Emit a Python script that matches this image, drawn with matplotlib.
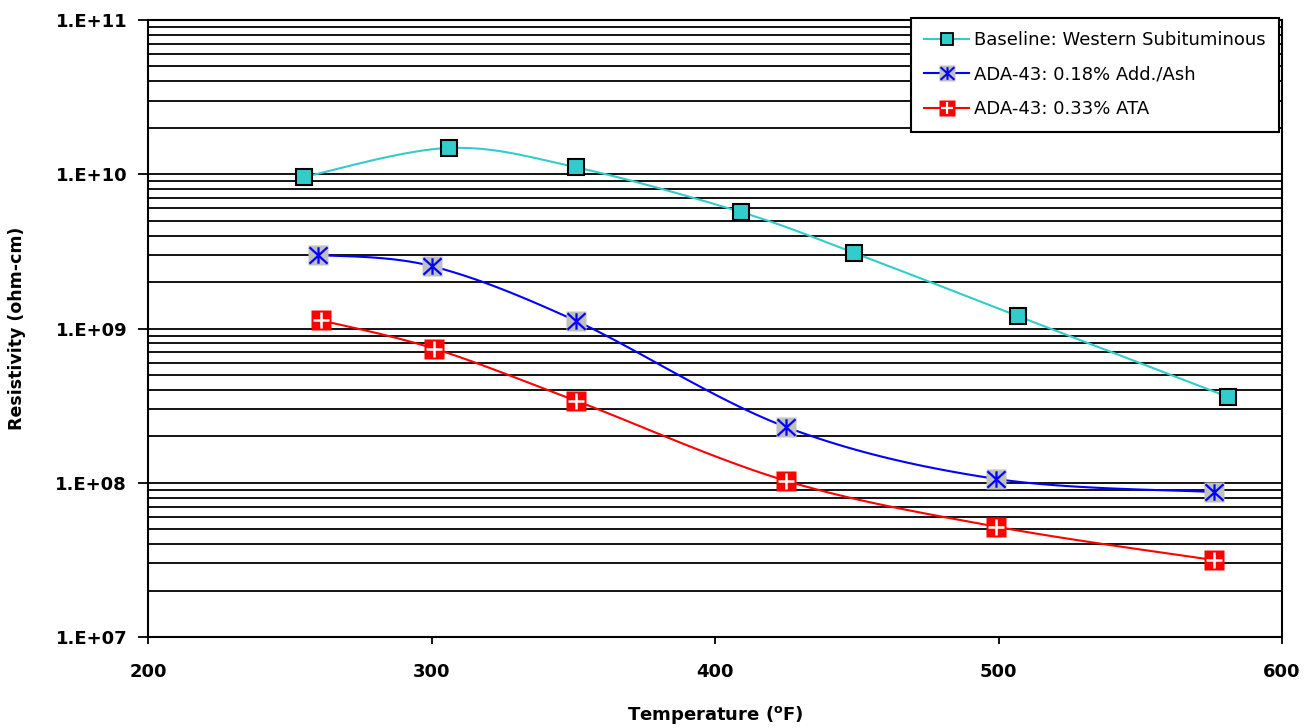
import numpy as np
import matplotlib
matplotlib.use('Agg')
import matplotlib.pyplot as plt
from matplotlib.path import Path
from matplotlib.lines import Line2D
from matplotlib.ticker import LogLocator, FuncFormatter, NullFormatter

plt.rcParams['font.family'] = ['DejaVu Sans']

# data
temp_base = [255, 306, 351, 409, 449, 507, 581]
res_base = [9.6e9, 1.48e10, 1.11e10, 5.7e9, 3.1e9, 1.2e9, 3.6e8]
temp_add = [260, 300, 351, 425, 499, 576]
res_add = [3.0e9, 2.54e9, 1.12e9, 2.3e8, 1.06e8, 8.7e7]
temp_ata = [261, 301, 351, 425, 499, 576]
res_ata = [1.13e9, 7.4e8, 3.4e8, 1.03e8, 5.2e7, 3.15e7]

labels = ['Baseline: Western Subituminous',
          'ADA-43: 0.18% Add./Ash',
          'ADA-43: 0.33% ATA']


def smooth(xs, ys, n=25):
    # excel style smoothed line (bezier through the points, in x / log y space)
    px = np.asarray(xs, float) / 400 * 1134
    py = np.log10(ys) * 154
    pts = np.column_stack([px, py])
    ext = np.vstack([pts[0], pts, pts[-1]])
    t = np.linspace(0, 1, n)[:, None]
    out = []
    for i in range(len(pts) - 1):
        p0, p1, p2, p3 = ext[i], ext[i + 1], ext[i + 2], ext[i + 3]
        c1 = p1 + (p2 - p0) / 6
        c2 = p2 - (p3 - p1) / 6
        seg = (1 - t) ** 3 * p1 + 3 * (1 - t) ** 2 * t * c1 + 3 * (1 - t) * t ** 2 * c2 + t ** 3 * p2
        out.append(seg if i == 0 else seg[1:])
    out = np.vstack(out)
    return out[:, 0] * 400 / 1134, 10 ** (out[:, 1] / 154)


# asterisk marker: vertical bar + X
star = Path([(0, -1), (0, 1), (-1.1, -1), (1.1, 1), (-1.1, 1), (1.1, -1)],
            [Path.MOVETO, Path.LINETO, Path.MOVETO, Path.LINETO, Path.MOVETO, Path.LINETO])

teal = '#33CCCC'
fig = plt.figure(figsize=(13.12, 7.28), dpi=100)
ax = fig.add_axes([148 / 1312, 1 - 637 / 728, 1134 / 1312, 617 / 728])

# lines
x, y = smooth(temp_base, res_base)
ax.plot(x, y, color=teal, lw=1.5, zorder=3)
x, y = smooth(temp_add, res_add)
ax.plot(x, y, color='#0000FF', lw=1.5, zorder=3)
x, y = smooth(temp_ata, res_ata)
ax.plot(x, y, color='#FF0000', lw=1.5, zorder=3)

# markers
ax.plot(temp_base, res_base, ls='none', marker='s', ms=12, mfc=teal, mec='black', mew=1.5, zorder=4)
ax.plot(temp_add, res_add, ls='none', marker='s', ms=14, mfc='#C0C0C0', mec='none', zorder=4)
ax.plot(temp_add, res_add, ls='none', marker=star, ms=13, mfc='none', mec='#0000FF', mew=1.6, zorder=5)
ax.plot(temp_ata, res_ata, ls='none', marker='s', ms=14, mfc='#FF0000', mec='none', zorder=4)
ax.plot(temp_ata, res_ata, ls='none', marker='+', ms=12, mec='white', mew=1.8, zorder=5)

ax.set_yscale('log')
ax.set_xlim(200, 600)
ax.set_ylim(1e7, 1e11)
ax.set_xticks([200, 300, 400, 500, 600])
ax.yaxis.set_major_locator(LogLocator(base=10, numticks=10))
ax.yaxis.set_minor_locator(LogLocator(base=10, subs=range(2, 10), numticks=20))
ax.yaxis.set_major_formatter(FuncFormatter(lambda v, p: '1.E+%02d' % int(round(np.log10(v)))))
ax.yaxis.set_minor_formatter(NullFormatter())
ax.grid(True, which='both', axis='y', color='black', lw=1.3)
ax.set_axisbelow(True)

ax.tick_params(axis='y', which='major', length=7, width=1.3, pad=8, labelsize=13)
ax.tick_params(axis='y', which='minor', length=0)
ax.tick_params(axis='x', length=5, width=1.3, pad=14, labelsize=13)
for lab in ax.get_xticklabels() + ax.get_yticklabels():
    lab.set_fontweight('bold')

for side in ['left', 'right', 'bottom', 'top']:
    ax.spines[side].set_linewidth(1.5)

ax.set_ylabel('Resistivity (ohm-cm)', fontsize=12.5, fontweight='bold', labelpad=21)
ax.set_xlabel(r'Temperature ($^{\mathbf{o}}$F)', fontsize=13, fontweight='bold', labelpad=16)

# legend
h1 = Line2D([], [], color=teal, lw=1.5, marker='s', ms=9, mfc=teal, mec='black', mew=1.3)
h2a = Line2D([], [], color='#0000FF', lw=1.5, marker='s', ms=11, mfc='#C0C0C0', mec='none')
h2b = Line2D([], [], ls='none', marker=star, ms=10, mfc='none', mec='#0000FF', mew=1.5)
h3a = Line2D([], [], color='#FF0000', lw=1.5, marker='s', ms=11, mfc='#FF0000', mec='none')
h3b = Line2D([], [], ls='none', marker='+', ms=9, mec='white', mew=1.6)
leg = ax.legend([h1, (h2a, h2b), (h3a, h3b)], labels, loc='upper right',
                bbox_to_anchor=(0.9975, 1.004), borderaxespad=0, fancybox=False,
                edgecolor='black', framealpha=1, fontsize=13, handlelength=2.5,
                labelspacing=0.92, handletextpad=0.25, borderpad=0.75)
leg.get_frame().set_linewidth(1.5)

fig.savefig('out.png', dpi=100)
